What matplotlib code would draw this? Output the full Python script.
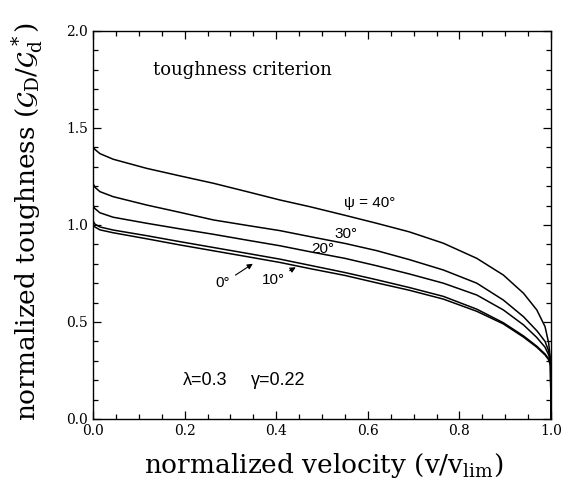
import matplotlib
matplotlib.use("Agg")
import matplotlib.pyplot as plt
from matplotlib.ticker import MultipleLocator, FormatStrFormatter

plt.rcParams['font.family'] = ['DejaVu Serif']
plt.rcParams['mathtext.fontset'] = 'dejavuserif'

# normalized velocity v/v_lim
v = [0.0, 0.004, 0.015, 0.044, 0.117, 0.19, 0.263, 0.336, 0.408, 0.474,
     0.55, 0.619, 0.69, 0.765, 0.838, 0.896, 0.94, 0.969, 0.987, 0.995,
     0.999, 1.0]

# normalized toughness for each psi
g_40 = [1.405, 1.39, 1.368, 1.339, 1.292, 1.253, 1.215, 1.172, 1.129, 1.094,
        1.05, 1.009, 0.965, 0.906, 0.828, 0.742, 0.648, 0.562, 0.476, 0.39,
        0.30, 0.0]
g_30 = [1.215, 1.195, 1.172, 1.146, 1.103, 1.065, 1.026, 0.998, 0.971, 0.94,
        0.905, 0.868, 0.822, 0.768, 0.70, 0.613, 0.527, 0.455, 0.40, 0.35,
        0.30, 0.0]
g_20 = [1.103, 1.085, 1.063, 1.040, 1.009, 0.98, 0.952, 0.922, 0.893, 0.862,
        0.828, 0.79, 0.748, 0.70, 0.639, 0.562, 0.485, 0.42, 0.37, 0.33,
        0.29, 0.0]
g_10 = [1.022, 1.005, 0.99, 0.974, 0.945, 0.914, 0.884, 0.854, 0.824, 0.792,
        0.755, 0.718, 0.678, 0.632, 0.566, 0.496, 0.428, 0.375, 0.335, 0.31,
        0.28, 0.0]
g_0 = [1.005, 0.99, 0.975, 0.96, 0.929, 0.897, 0.867, 0.837, 0.807, 0.775,
       0.74, 0.702, 0.664, 0.618, 0.555, 0.49, 0.422, 0.37, 0.33, 0.305,
       0.275, 0.0]

curves = [g_40, g_30, g_20, g_10, g_0]

sans = ['Liberation Sans', 'DejaVu Sans']

fig = plt.figure(figsize=(5.63, 4.92), dpi=100)
ax = fig.add_axes([0.1652, 0.1484, 0.8135, 0.7886])

for g in curves:
    ax.plot(v, g, color='black', lw=1.1)

ax.set_xlim(0, 1)
ax.set_ylim(0, 2)
ax.xaxis.set_major_locator(MultipleLocator(0.2))
ax.xaxis.set_minor_locator(MultipleLocator(0.05))
ax.yaxis.set_major_locator(MultipleLocator(0.5))
ax.yaxis.set_minor_locator(MultipleLocator(0.1))
ax.xaxis.set_major_formatter(FormatStrFormatter('%.1f'))
ax.yaxis.set_major_formatter(FormatStrFormatter('%.1f'))
ax.tick_params(which='both', direction='in', top=True, right=True,
               labelsize=10, width=0.9)
ax.tick_params(which='major', length=6)
ax.tick_params(which='minor', length=3.5)
for s in ax.spines.values():
    s.set_linewidth(1.0)

fig.text(0.575, 0.053, r'normalized velocity (v/v$_{\rm lim}$)', fontsize=19,
         ha='center', va='center')
fig.text(0.048, 0.55,
         r'normalized toughness ($\mathcal{G}_{\rm D}/\mathcal{G}_{\rm d}^{\,*}$)',
         fontsize=19, rotation=90, ha='center', va='center')

ax.text(0.326, 1.80, 'toughness criterion', fontsize=13, ha='center', va='center')
ax.text(0.197, 0.20, 'λ=0.3', fontsize=13, family=sans, ha='left', va='center')
ax.text(0.345, 0.20, 'γ=0.22', fontsize=13, family=sans, ha='left', va='center')

ax.text(0.603, 1.112, 'ψ = 40°', fontsize=11, family=sans, ha='center', va='center')
ax.text(0.552, 0.955, '30°', fontsize=11, family=sans, ha='center', va='center')
ax.text(0.502, 0.878, '20°', fontsize=11, family=sans, ha='center', va='center')

arrow = dict(arrowstyle='-|>', color='black', lw=0.8, mutation_scale=8)
ax.annotate('0°', xy=(0.354, 0.808), xytext=(0.284, 0.70), fontsize=11,
            family=sans, ha='center', va='center', arrowprops=arrow)
ax.annotate('10°', xy=(0.448, 0.789), xytext=(0.393, 0.716), fontsize=11,
            family=sans, ha='center', va='center', arrowprops=arrow)

fig.savefig('out.png', dpi=100)
